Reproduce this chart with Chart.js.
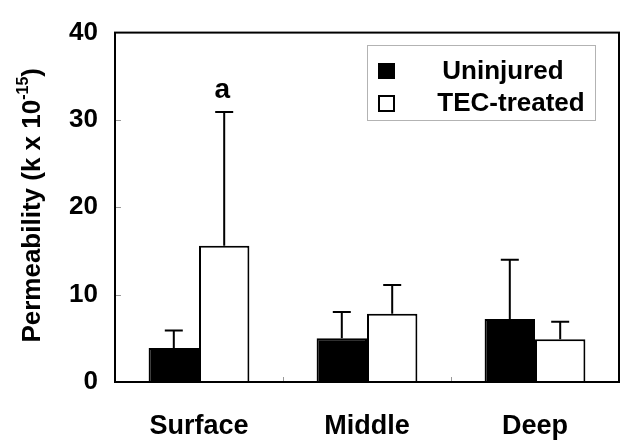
<!DOCTYPE html>
<html>
<head>
<meta charset="utf-8">
<script src="https://cdn.jsdelivr.net/npm/chart.js@4"></script>
<style>
  html, body { margin: 0; padding: 0; background: #fff; }
  #wrap { width: 625px; height: 442px; position: relative; }
</style>
</head>
<body>
<div id="wrap"><canvas id="chart"></canvas></div>
<script>
// data
const categories = ['Surface', 'Middle', 'Deep'];
const seriesNames = ['Uninjured', 'TEC-treated'];
const uninjured = [3.9, 5.0, 7.2];
const uninjuredSD = [2.0, 3.0, 6.8];
const tecTreated = [15.6, 7.8, 4.9];
const tecTreatedSD = [15.3, 3.3, 2.0];
const tecMarks = ['a', '', ''];
const yTicks = [0, 10, 20, 30, 40];

const FONT = '"Liberation Sans", Arial, sans-serif';

const errorBars = [uninjuredSD, tecTreatedSD];
const marks = [[], tecMarks];

const figurePlugin = {
    id: 'figure',
    afterDatasetsDraw(chart) {
        const ctx = chart.ctx;
        const y = chart.scales.y;
        ctx.save();
        ctx.strokeStyle = '#000';
        ctx.lineWidth = 2;
        chart.data.datasets.forEach((ds, di) => {
            const meta = chart.getDatasetMeta(di);
            meta.data.forEach((bar, i) => {
                const top = y.getPixelForValue(ds.data[i] + errorBars[di][i]);
                ctx.beginPath();
                ctx.moveTo(bar.x, bar.y);
                ctx.lineTo(bar.x, top);
                ctx.moveTo(bar.x - 9, top);
                ctx.lineTo(bar.x + 9, top);
                ctx.stroke();
                const m = marks[di][i];
                if (m) {
                    ctx.fillStyle = '#000';
                    ctx.font = 'bold 28px ' + FONT;
                    ctx.textAlign = 'center';
                    ctx.textBaseline = 'bottom';
                    ctx.fillText(m, bar.x - 2, top - 8);
                }
            });
        });
        ctx.restore();
    },
    afterDraw(chart) {
        const ctx = chart.ctx;
        const a = chart.chartArea;
        const y = chart.scales.y;
        const x = chart.scales.x;
        ctx.save();

        // small inner ticks
        ctx.strokeStyle = '#999';
        ctx.lineWidth = 1;
        yTicks.slice(1, -1).forEach(v => {
            const py = Math.round(y.getPixelForValue(v)) + 0.5;
            ctx.beginPath();
            ctx.moveTo(a.left, py);
            ctx.lineTo(a.left + 6, py);
            ctx.stroke();
        });
        for (let i = 1; i < categories.length; i++) {
            const px = Math.round((x.getPixelForTick(i - 1) + x.getPixelForTick(i)) / 2) + 0.5;
            ctx.beginPath();
            ctx.moveTo(px, a.bottom);
            ctx.lineTo(px, a.bottom - 5);
            ctx.stroke();
        }

        // frame
        ctx.strokeStyle = '#000';
        ctx.lineWidth = 2;
        ctx.strokeRect(a.left, a.top, a.right - a.left, a.bottom - a.top);

        // legend
        const lx = a.left + 252, ly = 45, lw = 228, lh = 75;
        ctx.strokeStyle = '#666';
        ctx.lineWidth = 1;
        ctx.setLineDash([1, 1]);
        ctx.strokeRect(lx + 0.5, ly + 0.5, lw, lh);
        ctx.setLineDash([]);
        ctx.fillStyle = '#000';
        ctx.fillRect(lx + 11, ly + 18, 17, 16);
        ctx.strokeStyle = '#000';
        ctx.lineWidth = 2;
        ctx.strokeRect(lx + 12, ly + 51, 15, 15);
        ctx.font = 'bold 26px ' + FONT;
        ctx.textAlign = 'center';
        ctx.textBaseline = 'middle';
        ctx.fillText(seriesNames[0], lx + 136, ly + 27);
        ctx.fillText(seriesNames[1], lx + 144, ly + 59);

        // y axis title with superscript
        const big = 'bold 26px ' + FONT, small = 'bold 16px ' + FONT;
        const p1 = 'Permeability (k x 10', p2 = '-15', p3 = ')';
        ctx.font = big;
        const w1 = ctx.measureText(p1).width, w3 = ctx.measureText(p3).width;
        ctx.font = small;
        const w2 = ctx.measureText(p2).width;
        const total = w1 + w2 + w3;
        ctx.translate(33, (a.top + a.bottom) / 2 - 2);
        ctx.rotate(-Math.PI / 2);
        ctx.textAlign = 'left';
        ctx.textBaseline = 'middle';
        ctx.font = big;
        ctx.fillText(p1, -total / 2, 0);
        ctx.font = small;
        ctx.fillText(p2, -total / 2 + w1, -9);
        ctx.font = big;
        ctx.fillText(p3, -total / 2 + w1 + w2, 0);
        ctx.restore();
    }
};

new Chart(document.getElementById('chart'), {
    type: 'bar',
    data: {
        labels: categories,
        datasets: [
            {
                label: seriesNames[0],
                data: uninjured,
                backgroundColor: '#000',
                borderColor: '#000',
                borderWidth: 2,
                borderSkipped: 'bottom'
            },
            {
                label: seriesNames[1],
                data: tecTreated,
                backgroundColor: '#fff',
                borderColor: '#000',
                borderWidth: 2,
                borderSkipped: 'bottom'
            }
        ]
    },
    options: {
        responsive: true,
        maintainAspectRatio: false,
        animation: false,
        layout: { padding: { top: 21, right: 6, left: 0, bottom: 0 } },
        datasets: { bar: { categoryPercentage: 0.6, barPercentage: 1.0 } },
        scales: {
            x: {
                grid: { display: false, drawTicks: false },
                border: { display: false },
                ticks: {
                    color: '#000',
                    padding: 28,
                    font: { family: FONT, size: 27, weight: 'bold' }
                },
                afterFit(scale) { scale.height = 60; }
            },
            y: {
                min: 0,
                max: 40,
                afterBuildTicks(scale) { scale.ticks = yTicks.map(v => ({ value: v })); },
                grid: { display: false, drawTicks: false },
                border: { display: false },
                ticks: {
                    color: '#000',
                    padding: 17,
                    font: { family: FONT, size: 26, weight: 'bold' }
                },
                afterFit(scale) { scale.width = 115; }
            }
        },
        plugins: {
            legend: { display: false },
            tooltip: { enabled: false }
        }
    },
    plugins: [figurePlugin]
});
</script>
</body>
</html>
